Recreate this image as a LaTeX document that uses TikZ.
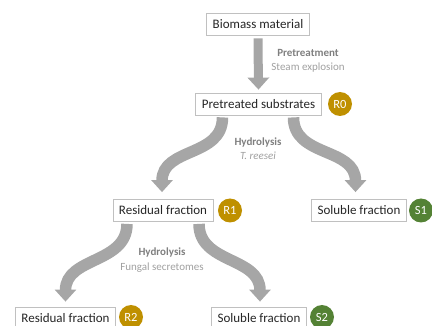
\documentclass[tikz,border=0pt]{standalone}
\usepackage{fontspec}
\setmainfont{Carlito}
\usetikzlibrary{arrows.meta}
\definecolor{gold}{HTML}{BF9000}
\definecolor{leaf}{HTML}{548235}
\definecolor{arrowgray}{HTML}{A6A6A6}
\definecolor{boxline}{HTML}{C0C0C0}
\definecolor{labdark}{HTML}{7F7F7F}
\definecolor{lablight}{HTML}{A0A0A0}
\tikzset{
  fracbox/.style={draw=boxline, line width=0.8pt, fill=white, inner xsep=6pt, minimum height=22pt, font=\fontsize{13}{15}\selectfont, text=black!85},
  badge/.style={circle, fill=#1, minimum size=24pt, inner sep=0pt, text=white, font=\fontsize{12.5}{14}\selectfont},
  labbold/.style={text=labdark, font=\bfseries\fontsize{11}{13}\selectfont},
  lablite/.style={text=lablight, font=\fontsize{11}{13}\selectfont},
  straightarrow/.style={draw=arrowgray, line width=9pt, -{Triangle[width=21pt,length=12pt]}},
  bentarrow/.style={draw=arrowgray, line width=11.5pt, -{Triangle[width=21pt,length=12pt]}}
}
\begin{document}
\begin{tikzpicture}[x=1pt,y=-1pt]
\useasboundingbox (0,0) rectangle (432,326);
\node[fracbox] (bio) at (258,24) {Biomass material};
\node[fracbox] (pre) at (258.5,104) {Pretreated substrates};
\node[badge=gold] (r0) at (340,104) {R0};
\node[fracbox] (res1) at (163,210.5) {Residual fraction};
\node[badge=gold] (r1) at (230,210.5) {R1};
\node[fracbox] (sol1) at (359,210.5) {Soluble fraction};
\node[badge=leaf] (s1) at (421,210.5) {S1};
\node[fracbox] (res2) at (65.5,318) {Residual fraction};
\node[badge=gold] (r2) at (131,317) {R2};
\node[fracbox] (sol2) at (259,318) {Soluble fraction};
\node[badge=leaf] (s2) at (322,317) {S2};

\node[labbold] (pt) at (308,53) {Pretreatment};
\node[lablite] (se) at (308,68) {Steam explosion};
\node[labbold] (hy1) at (258,143) {Hydrolysis};
\node[lablite, font=\itshape\fontsize{11}{13}\selectfont] (tr) at (258,156) {T. reesei};
\node[labbold] (hy2) at (162,253) {Hydrolysis};
\node[lablite] (fs) at (162,268) {Fungal secretomes};

\draw[straightarrow] ([yshift=-3pt]bio.south) -- ([yshift=3pt]pre.north);

\draw[bentarrow] ([xshift=-36pt,yshift=-2pt]pre.south) .. controls +(0,40) and +(0,-45) .. ([xshift=-1pt,yshift=7pt]res1.north);
\draw[bentarrow] ([xshift=35pt,yshift=-2pt]pre.south) .. controls +(0,40) and +(0,-45) .. ([xshift=-3.5pt,yshift=7pt]sol1.north);

\draw[bentarrow] ([xshift=-36pt,yshift=-2pt]res1.south) .. controls +(0,40) and +(0,-45) .. ([xshift=0pt,yshift=5pt]res2.north);
\draw[bentarrow] ([xshift=36pt,yshift=-2pt]res1.south) .. controls +(0,40) and +(0,-45) .. ([xshift=1pt,yshift=5pt]sol2.north);
\end{tikzpicture}
\end{document}
